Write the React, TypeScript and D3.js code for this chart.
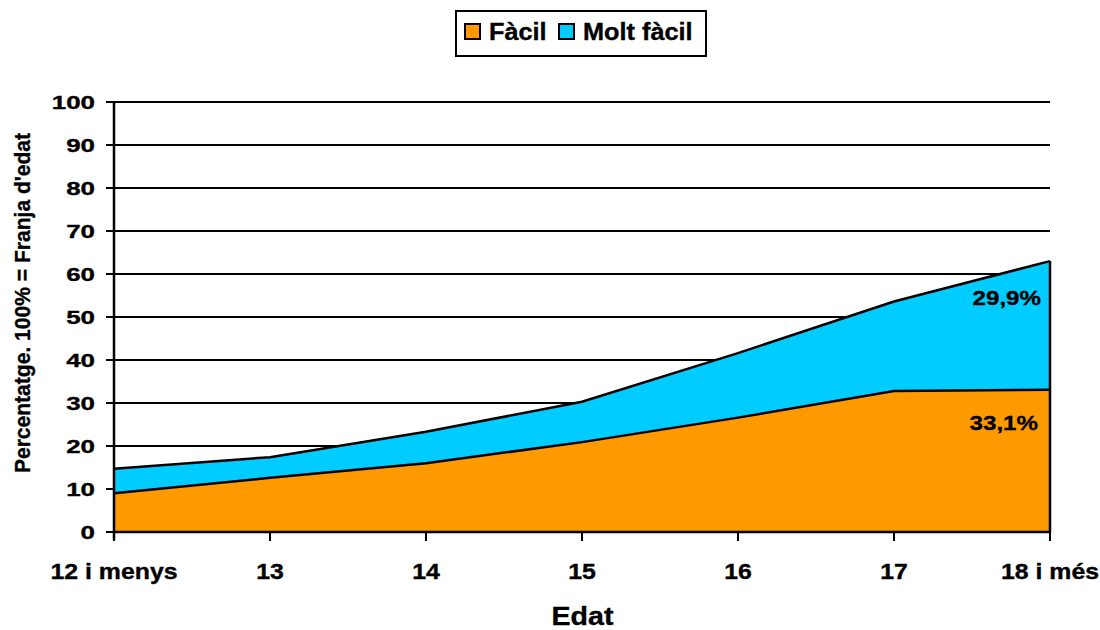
import * as d3 from "d3";

const ages = ["12 i menys", "13", "14", "15", "16", "17", "18 i més"];
const facil = [9.0, 12.6, 16.0, 20.9, 26.6, 32.8, 33.1];
const moltFacil = [5.7, 4.8, 7.3, 9.4, 15.0, 20.8, 29.9];
const yTickValues = [0, 10, 20, 30, 40, 50, 60, 70, 80, 90, 100];
const seriesNames = ["Fàcil", "Molt fàcil"];
const seriesColors = ["#FF9900", "#00CCFF"];

// bold text, stretched a little horizontally like the original export
function T({ x, y, size, sx = 1, anchor = "start", rotate = 0, children }: any) {
    return (
        <text
            transform={`translate(${x},${y}) rotate(${rotate}) scale(${sx},1)`}
            textAnchor={anchor}
            fontSize={size}
            fontWeight="bold"
            fill="#000"
            stroke="#000"
            strokeWidth={0.35}
        >
            {children}
        </text>
    );
}

export default function App() {
    const width = 1100;
    const height = 630;
    const margin = { top: 102, right: 50, bottom: 98, left: 114 };
    const font = "Arial, 'Liberation Sans', sans-serif";

    const x = d3
        .scalePoint<string>()
        .domain(ages)
        .range([margin.left, width - margin.right]);

    const y = d3
        .scaleLinear()
        .domain([0, 100])
        .range([height - margin.bottom, margin.top]);

    const rows = ages.map((a, i) => ({ age: a, facil: facil[i], moltFacil: moltFacil[i] }));
    const stacked = d3.stack<any>().keys(["facil", "moltFacil"])(rows);

    const area = d3
        .area<any>()
        .x((d) => x(d.data.age) ?? 0)
        .y0((d) => y(d[0]))
        .y1((d) => y(d[1]));

    const topLine = d3
        .line<any>()
        .x((d) => x(d.data.age) ?? 0)
        .y((d) => y(d[1]));

    const x0 = margin.left;
    const x1 = width - margin.right;
    const yBase = y(0);
    const lastIdx = ages.length - 1;
    const lastX = x(ages[lastIdx]) ?? 0;

    return (
        <svg
            width={width}
            height={height}
            style={{ position: "absolute", left: 0, top: 0, fontFamily: font }}
        >
            <rect width={width} height={height} fill="#fff" />

            {/* gridlines */}
            {yTickValues.map((t) => (
                <line key={"g" + t} x1={x0} x2={x1} y1={y(t)} y2={y(t)} stroke="#000" strokeWidth={2} />
            ))}

            {/* areas */}
            {stacked.map((s, i) => (
                <path key={"a" + i} d={area(s) ?? ""} fill={seriesColors[i]} />
            ))}
            {stacked.map((s, i) => (
                <path key={"l" + i} d={topLine(s) ?? ""} fill="none" stroke="#000" strokeWidth={2.5} />
            ))}
            <line
                x1={lastX}
                x2={lastX}
                y1={yBase}
                y2={y(stacked[1][lastIdx][1])}
                stroke="#000"
                strokeWidth={2.5}
            />

            {/* y axis */}
            <line x1={x0} x2={x0} y1={y(100)} y2={yBase + 8} stroke="#000" strokeWidth={2.5} />
            {yTickValues.map((t) => (
                <g key={"y" + t}>
                    <line x1={x0 - 8} x2={x0} y1={y(t)} y2={y(t)} stroke="#000" strokeWidth={2} />
                    <T x={95} y={y(t) + 6.7} size={18.5} sx={1.4} anchor="end">
                        {t}
                    </T>
                </g>
            ))}

            {/* x axis */}
            <line x1={x0} x2={x1} y1={yBase} y2={yBase} stroke="#000" strokeWidth={2.5} />
            {ages.map((a) => (
                <g key={"x" + a}>
                    <line
                        x1={x(a) ?? 0}
                        x2={x(a) ?? 0}
                        y1={yBase}
                        y2={yBase + 9}
                        stroke="#000"
                        strokeWidth={2}
                    />
                    <T x={x(a) ?? 0} y={579} size={22} sx={1.13} anchor="middle">
                        {a}
                    </T>
                </g>
            ))}

            {/* value labels */}
            <T x={1041} y={305} size={21} sx={1.15} anchor="end">
                {moltFacil[lastIdx].toFixed(1).replace(".", ",")}%
            </T>
            <T x={1038} y={430} size={21} sx={1.15} anchor="end">
                {facil[lastIdx].toFixed(1).replace(".", ",")}%
            </T>

            {/* axis titles */}
            <T x={(x0 + x1) / 2 + 0.5} y={625} size={26} sx={1.1} anchor="middle">
                Edat
            </T>
            <T x={29.5} y={303} size={21.5} sx={0.98} anchor="middle" rotate={-90}>
                Percentatge. 100% = Franja d'edat
            </T>

            {/* legend */}
            <rect x={456} y={11} width={250} height={45} fill="#fff" stroke="#000" strokeWidth={2} />
            {seriesNames.map((name, i) => {
                const lx = i === 0 ? 465 : 559;
                return (
                    <g key={"lg" + name}>
                        <rect x={lx} y={24} width={15} height={15} fill={seriesColors[i]} stroke="#000" strokeWidth={2} />
                        <T x={lx + 24} y={40} size={23} sx={1.1}>
                            {name}
                        </T>
                    </g>
                );
            })}
        </svg>
    );
}
